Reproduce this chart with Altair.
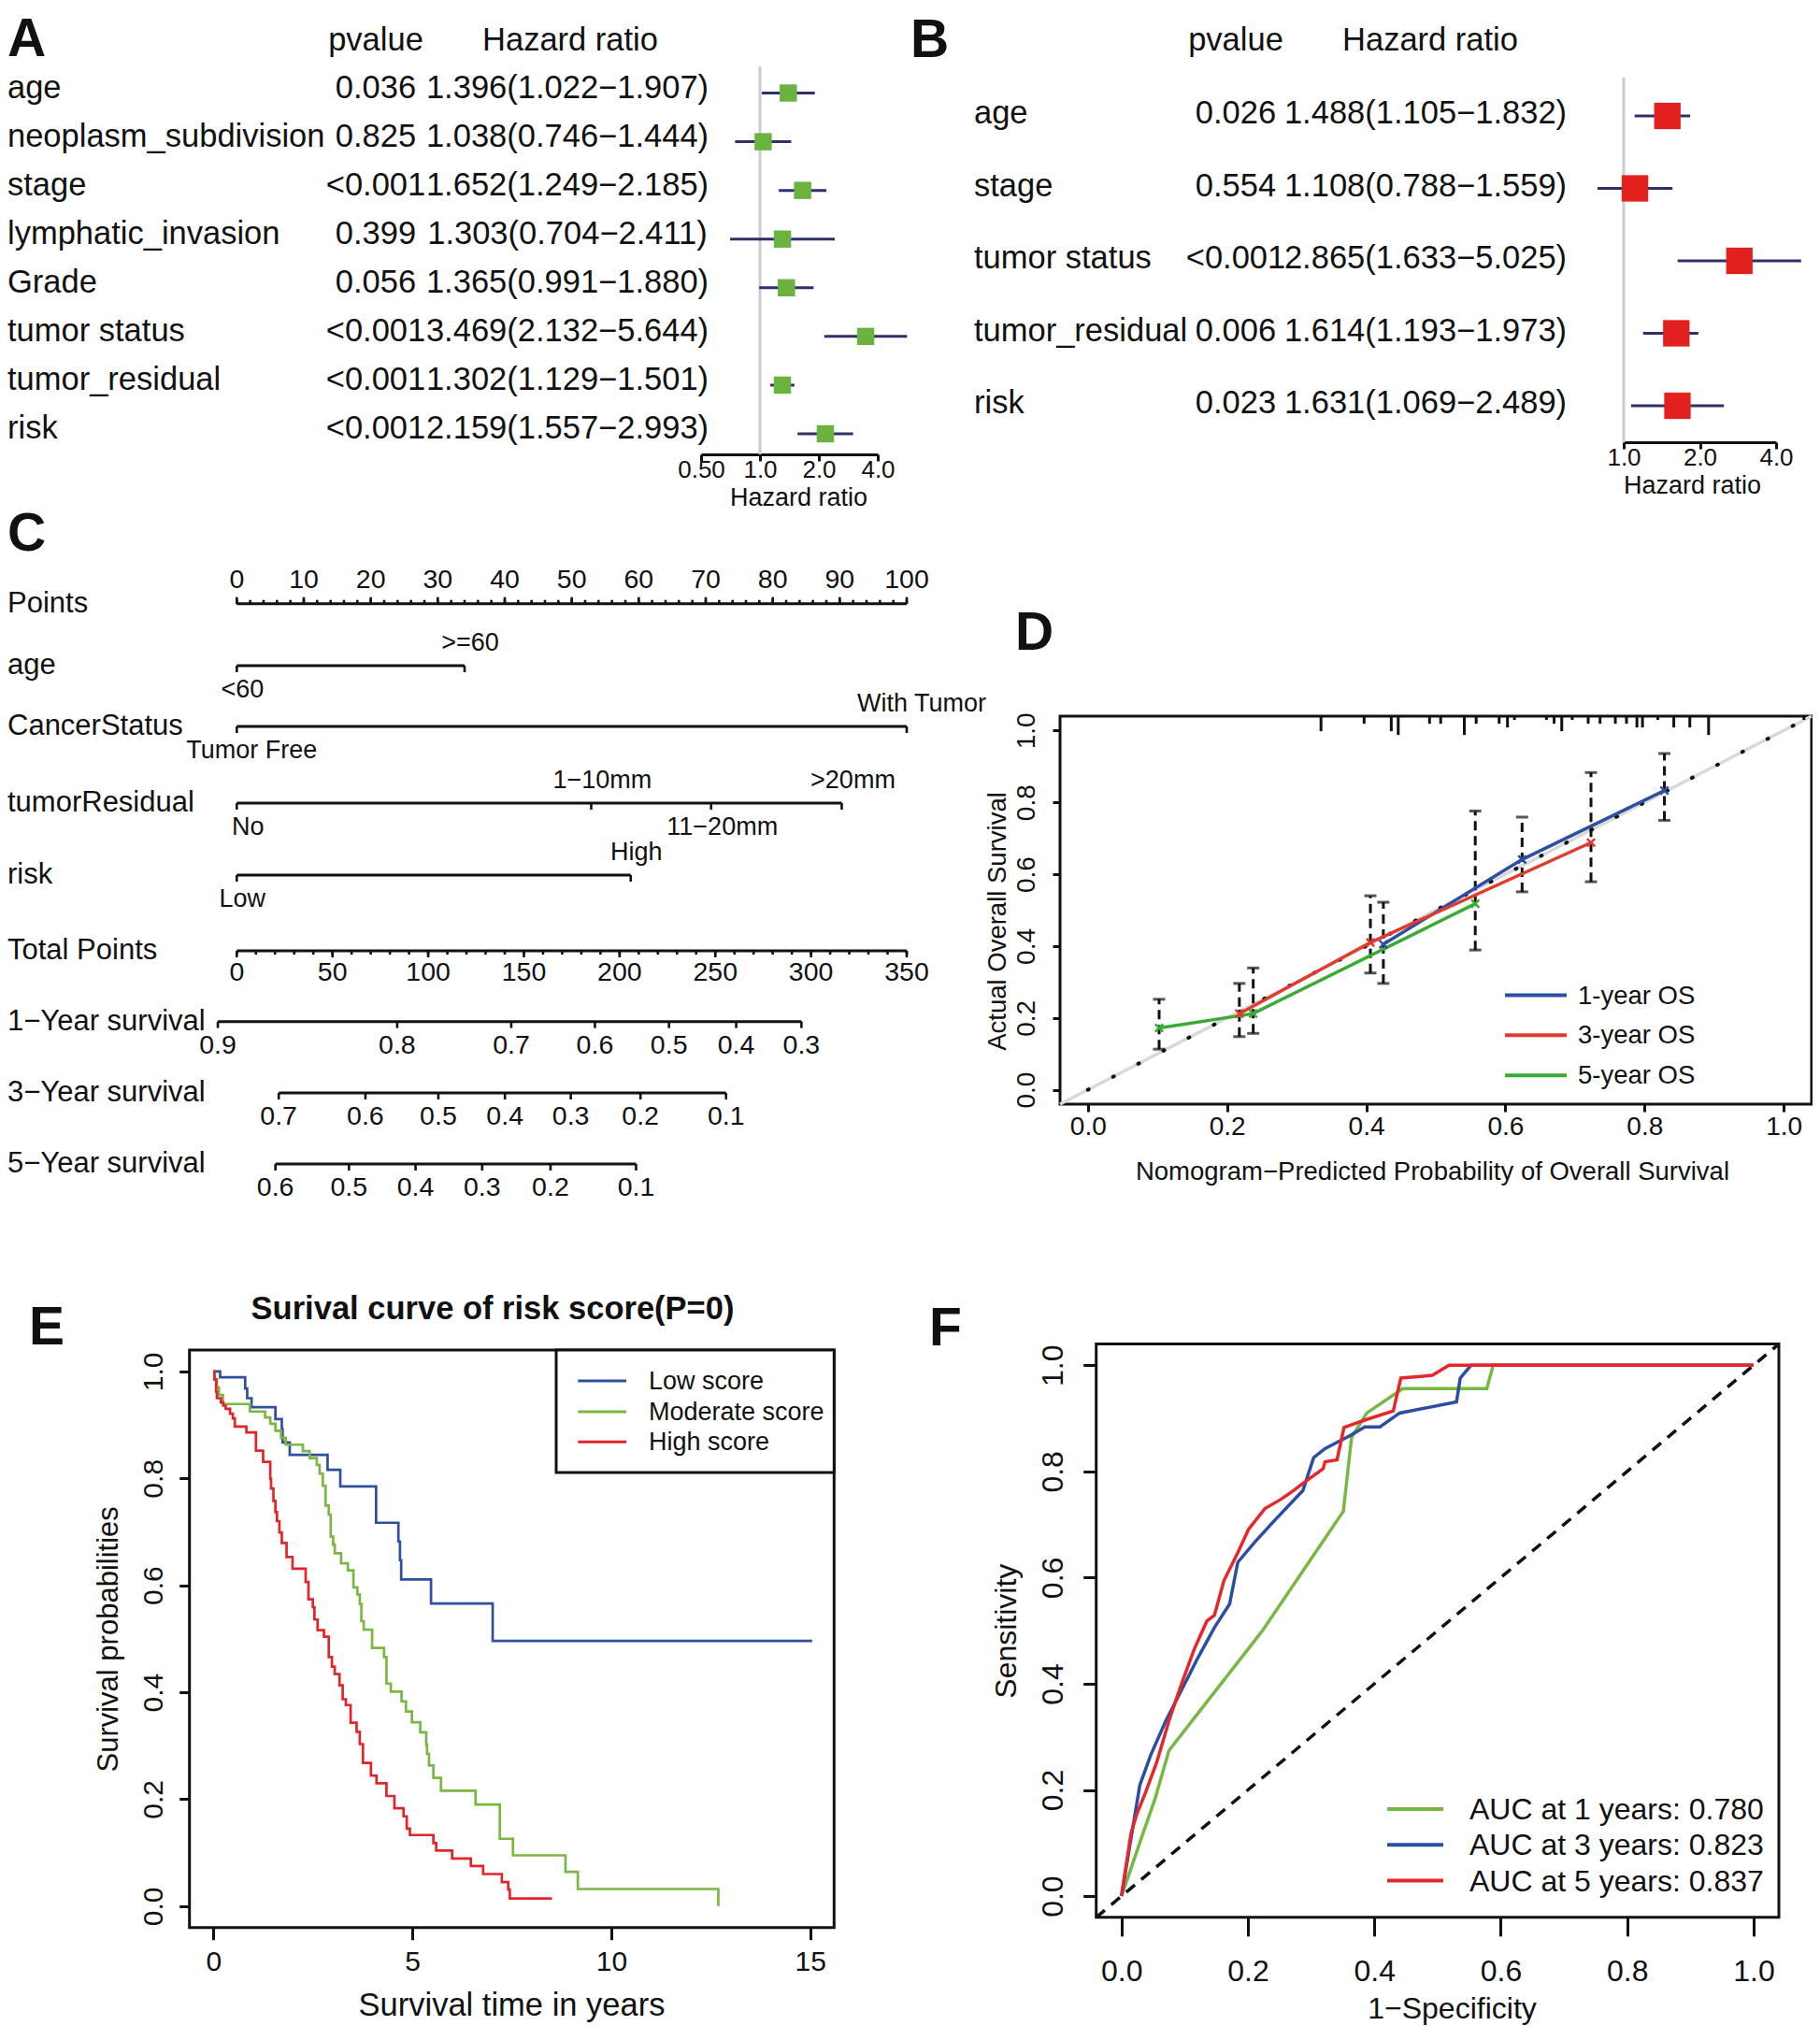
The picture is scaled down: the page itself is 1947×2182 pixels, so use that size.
import altair as alt
import pandas as pd

# ------------------------------------------------------------------ layout
W, H = 1931, 2158          # plot area; page margin 8px + inline gap below the svg
M = 8
FONT = "Liberation Sans"
BLACK = "#111111"


def px(v):
    """page pixel -> chart pixel"""
    return v - M


# ================================================================== DATA
# ---- A : univariate Cox regression
a_vars = ["age", "neoplasm_subdivision", "stage", "lymphatic_invasion", "Grade",
          "tumor status", "tumor_residual", "risk"]
a_pval = ["0.036", "0.825", "<0.001", "0.399", "0.056", "<0.001", "<0.001", "<0.001"]
a_hr = [1.396, 1.038, 1.652, 1.303, 1.365, 3.469, 1.302, 2.159]
a_lo = [1.022, 0.746, 1.249, 0.704, 0.991, 2.132, 1.129, 1.557]
a_hi = [1.907, 1.444, 2.185, 2.411, 1.880, 5.644, 1.501, 2.993]
a_ticks = [0.5, 1.0, 2.0, 4.0]
a_tick_labels = ["0.50", "1.0", "2.0", "4.0"]

# ---- B : multivariate Cox regression
b_vars = ["age", "stage", "tumor status", "tumor_residual", "risk"]
b_pval = ["0.026", "0.554", "<0.001", "0.006", "0.023"]
b_hr = [1.488, 1.108, 2.865, 1.614, 1.631]
b_lo = [1.105, 0.788, 1.633, 1.193, 1.069]
b_hi = [1.832, 1.559, 5.025, 1.973, 2.489]
b_ticks = [1.0, 2.0, 4.0]
b_tick_labels = ["1.0", "2.0", "4.0"]

# ---- C : nomogram
nomo_rows = ["Points", "age", "CancerStatus", "tumorResidual", "risk", "Total Points",
             "1\u2212Year survival", "3\u2212Year survival", "5\u2212Year survival"]
nomo_level = [0, 0.885, 1.753, 2.847, 3.875, 4.957, 5.966, 6.986, 8.0]
points_major = [0, 10, 20, 30, 40, 50, 60, 70, 80, 90, 100]
points_minor = list(range(0, 101, 2))
nomo_vars = ["age", "CancerStatus", "tumorResidual", "risk"]
nomo_labels = [["<60", ">=60"], ["Tumor Free", "With Tumor"],
               ["No", "1\u221210mm", "11\u221220mm", ">20mm"], ["Low", "High"]]
nomo_points = [[0, 34.0], [0, 100.0], [0, 52.9, 70.8, 90.3], [0, 58.8]]
nomo_side = [["below", "above"], ["below", "above"],
             ["below", "above", "below", "above"], ["below", "above"]]
nomo_label_dx = [6, 16, 12, 6]          # text nudge of the level labels (style)
total_major = [0, 50, 100, 150, 200, 250, 300, 350]
total_minor = list(range(0, 351, 10))
TOTAL_MAX = 350
surv_rows = ["1\u2212Year survival", "3\u2212Year survival", "5\u2212Year survival"]
surv_probs = [[0.9, 0.8, 0.7, 0.6, 0.5, 0.4, 0.3],
              [0.7, 0.6, 0.5, 0.4, 0.3, 0.2, 0.1],
              [0.6, 0.5, 0.4, 0.3, 0.2, 0.1]]
surv_total = [[-9.9, 83.8, 143.4, 187.1, 225.8, 260.9, 295.0],
              [21.9, 67.2, 105.3, 140.1, 174.5, 210.9, 255.6],
              [20.2, 58.6, 93.4, 128.2, 163.9, 208.6]]

# ---- D : calibration
d_names = ["1-year OS", "3-year OS", "5-year OS"]
d_colors = ["#2c4fa3", "#df3b2f", "#3aaa36"]
d_x = [[0.4246, 0.624, 0.8285], [0.2177, 0.406, 0.723], [0.1024, 0.2376, 0.5567]]
d_y = [[0.405, 0.641, 0.833], [0.212, 0.410, 0.688], [0.172, 0.212, 0.518]]
d_lo = [[0.296, 0.551, 0.750], [0.148, 0.325, 0.579], [0.113, 0.157, 0.389]]
d_hi = [[0.522, 0.759, 0.936], [0.296, 0.540, 0.883], [0.252, 0.339, 0.776]]
rug_x = [0.335, 0.397, 0.436, 0.446, 0.491, 0.507, 0.541, 0.558, 0.591, 0.603, 0.613,
         0.659, 0.670, 0.681, 0.696, 0.719, 0.736, 0.758, 0.774, 0.789, 0.797, 0.819,
         0.842, 0.865, 0.892, 1.029]
rug_n = [4, 2, 4, 5, 2, 2, 5, 2, 2, 3, 1, 1, 2, 4, 1, 2, 2, 2, 2, 3, 3, 1, 3, 3, 5, 1]
d_ticks = [0.0, 0.2, 0.4, 0.6, 0.8, 1.0]

# ---- E : Kaplan-Meier
e_names = ["Low score", "Moderate score", "High score"]
e_colors = ["#2f509e", "#7ab743", "#e1262b"]
e_t = [
    [0, 0.17, 0.80, 0.85, 0.96, 1.56, 1.72, 1.74, 1.92, 2.87, 3.19, 4.09, 4.65, 4.69, 4.72,
     5.47, 7.02, 15.05],
    [0, 0.02, 0.09, 0.14, 0.24, 0.92, 1.30, 1.43, 1.56, 1.70, 1.82, 2.25, 2.42, 2.60, 2.67,
     2.75, 2.82, 2.90, 2.95, 3.01, 3.05, 3.21, 3.38, 3.52, 3.62, 3.68, 3.72, 3.78, 3.99, 4.29,
     4.35, 4.46, 4.73, 4.84, 4.99, 5.20, 5.35, 5.37, 5.42, 5.53, 5.72, 6.59, 7.20, 7.53, 8.85,
     9.16, 12.69],
    [0, 0.03, 0.07, 0.09, 0.19, 0.25, 0.31, 0.42, 0.49, 0.54, 0.83, 1.07, 1.25, 1.43, 1.45,
     1.51, 1.56, 1.60, 1.66, 1.72, 1.84, 1.99, 2.32, 2.39, 2.50, 2.54, 2.62, 2.78, 2.90, 2.98,
     3.05, 3.17, 3.25, 3.33, 3.45, 3.60, 3.68, 3.76, 3.96, 4.10, 4.35, 4.55, 4.78, 4.86, 4.94,
     5.53, 5.60, 6.00, 6.47, 6.78, 7.25, 7.41, 7.45, 8.51],
]
e_s = [
    [1.0, 0.989, 0.968, 0.950, 0.933, 0.911, 0.892, 0.867, 0.844, 0.816, 0.785, 0.717, 0.682,
     0.647, 0.611, 0.566, 0.496, 0.496],
    [1.0, 0.985, 0.970, 0.956, 0.939, 0.925, 0.914, 0.902, 0.889, 0.876, 0.863, 0.851, 0.838,
     0.825, 0.809, 0.786, 0.749, 0.732, 0.691, 0.676, 0.660, 0.641, 0.628, 0.596, 0.583, 0.565,
     0.533, 0.517, 0.483, 0.466, 0.416, 0.401, 0.383, 0.364, 0.344, 0.325, 0.302, 0.285, 0.263,
     0.240, 0.216, 0.190, 0.126, 0.095, 0.064, 0.032, 0.0],
    [1.0, 0.985, 0.962, 0.950, 0.942, 0.936, 0.930, 0.921, 0.912, 0.897, 0.886, 0.852, 0.831,
     0.799, 0.781, 0.758, 0.737, 0.720, 0.699, 0.679, 0.653, 0.631, 0.606, 0.574, 0.559, 0.536,
     0.516, 0.504, 0.466, 0.448, 0.434, 0.413, 0.387, 0.376, 0.343, 0.326, 0.303, 0.268, 0.244,
     0.230, 0.206, 0.183, 0.168, 0.145, 0.133, 0.118, 0.104, 0.089, 0.075, 0.060, 0.045, 0.031,
     0.0145, 0.0145],
]
e_xticks = [0, 5, 10, 15]
e_yticks = [0.0, 0.2, 0.4, 0.6, 0.8, 1.0]

# ---- F : time-dependent ROC
f_names = ["AUC at 1 years: 0.780", "AUC at 3 years: 0.823", "AUC at 5 years: 0.837"]
f_colors = ["#76b843", "#2c4ea2", "#e6262b"]
f_fpr = [
    [0, 0.034, 0.053, 0.075, 0.223, 0.351, 0.364, 0.388, 0.445, 0.578, 0.588, 1.0],
    [0, 0.029, 0.046, 0.070, 0.100, 0.120, 0.147, 0.171, 0.184, 0.211, 0.240, 0.287, 0.304,
     0.322, 0.361, 0.385, 0.409, 0.440, 0.530, 0.536, 0.553, 1.0],
    [0, 0.015, 0.024, 0.038, 0.056, 0.075, 0.095, 0.115, 0.135, 0.147, 0.162, 0.184, 0.201,
     0.227, 0.253, 0.272, 0.292, 0.319, 0.322, 0.341, 0.352, 0.388, 0.430, 0.442, 0.492,
     0.518, 1.0],
]
f_tpr = [
    [0, 0.118, 0.183, 0.274, 0.500, 0.725, 0.864, 0.910, 0.956, 0.956, 1.0, 1.0],
    [0, 0.209, 0.265, 0.330, 0.400, 0.447, 0.506, 0.550, 0.629, 0.667, 0.705, 0.764, 0.826,
     0.843, 0.867, 0.884, 0.884, 0.910, 0.931, 0.976, 1.0, 1.0],
    [0, 0.118, 0.154, 0.195, 0.253, 0.330, 0.400, 0.465, 0.518, 0.529, 0.594, 0.647, 0.691,
     0.730, 0.748, 0.764, 0.782, 0.805, 0.818, 0.822, 0.883, 0.898, 0.914, 0.976, 0.981,
     1.0, 1.0],
]
f_ticks = [0.0, 0.2, 0.4, 0.6, 0.8, 1.0]

DOM = [-0.04, 1.04]   # R's 4% axis extension

# ================================================================== HELPERS
AXSTYLE = dict(grid=False, ticks=True, tickColor=BLACK, tickWidth=3, labelFont=FONT,
               labelColor=BLACK, labelFlush=False, labelOverlap=False, labelBaseline="middle",
               titleFont=FONT, titleColor=BLACK, titleFontWeight="normal",
               titleBaseline="middle")


def label_expr(vals, labs):
    e = "''"
    for v, l in zip(reversed(vals), reversed(labs)):
        e = f"abs(datum.value - {v}) < 1e-6 ? '{l}' : ({e})"
    return e


def txt(s, x, y, size, weight="normal", align="left", baseline="middle"):
    return alt.Chart(pd.DataFrame({"t": [s]})).mark_text(
        font=FONT, fontSize=size, fontWeight=weight, color=BLACK, align=align,
        baseline=baseline).encode(x=alt.value(x), y=alt.value(y), text="t:N")


def letter(ch, x, y):
    return txt(ch, x, y, 57, weight="bold", baseline="alphabetic")


def legend_rows(names, colors, x1, x2, tx, ys, size, sw):
    out = []
    for n, c, y in zip(names, colors, ys):
        out.append(alt.Chart(pd.DataFrame({"t": [n]})).mark_rule(color=c, strokeWidth=sw)
                   .encode(x=alt.value(x1), x2=alt.value(x2), y=alt.value(y)))
        out.append(txt(n, tx, y + 1, size))
    return out


def frame(xs, ys, xdom, ydom, ax, ay):
    df = pd.DataFrame({"x0": [xdom[0]], "x1": [xdom[1]], "y0": [ydom[0]], "y1": [ydom[1]]})
    return alt.Chart(df).mark_rect(fillOpacity=0, stroke=BLACK, strokeWidth=3).encode(
        x=alt.X("x0:Q", scale=xs, axis=ax), x2="x1:Q",
        y=alt.Y("y0:Q", scale=ys, axis=ay), y2="y1:Q")


# ================================================================== A / B forest plots
def forest(vars_, pvals, hr, lo, hi, ticks, tick_labels, xdom, xrng, rows, name_x, p_x, hr_x,
           hdr_hr_x, hdr_y, grey_y, axis_y, lab_rel, title_rel, title_x, sq_size, sq_color,
           text_dy, fs):
    n = len(vars_)
    df = pd.DataFrame({
        "row": list(range(n)), "var": vars_, "pval": pvals,
        "hrtxt": [f"{h:.3f}({l:.3f}\u2212{u:.3f})" for h, l, u in zip(hr, lo, hi)],
        "hr": hr, "lo": lo, "hi": hi})
    xs = alt.Scale(type="log", domain=xdom, range=[px(xrng[0]), px(xrng[1])], nice=False)
    ys = alt.Scale(domain=[0, n - 1], range=[px(rows[0]), px(rows[1])], nice=False, zero=False)
    ax = alt.Axis(values=ticks, labelExpr=label_expr(ticks, tick_labels), orient="bottom",
                  offset=px(axis_y) - H, domain=True, domainColor=BLACK, domainWidth=3,
                  tickSize=7, labelFontSize=26, labelPadding=lab_rel - 7,
                  title="Hazard ratio", titleFontSize=27, titleX=px(title_x), titleY=title_rel,
                  **AXSTYLE)
    Y = alt.Y("row:Q", scale=ys, axis=None)
    base = alt.Chart(df)
    tstyle = dict(font=FONT, fontSize=fs, color=BLACK, baseline="middle", dy=text_dy)
    grey = alt.Chart(pd.DataFrame({"v": [1.0]})).mark_rule(color="#cccccc", strokeWidth=3).encode(
        x=alt.X("v:Q", scale=xs, axis=ax), y=alt.value(px(grey_y[0])), y2=alt.value(px(grey_y[1])))
    ci = base.mark_rule(color="#2d3069", strokeWidth=3).encode(
        x=alt.X("lo:Q", scale=xs, axis=ax), x2="hi:Q", y=Y)
    sq = base.mark_square(size=sq_size, color=sq_color, opacity=1).encode(
        x=alt.X("hr:Q", scale=xs, axis=ax), y=Y)
    names = base.mark_text(align="left", **tstyle).encode(x=alt.value(px(name_x)), y=Y, text="var:N")
    pv = base.mark_text(align="center", **tstyle).encode(x=alt.value(px(p_x)), y=Y, text="pval:N")
    hrt = base.mark_text(align="center", **tstyle).encode(x=alt.value(px(hr_x)), y=Y, text="hrtxt:N")
    h1 = txt("pvalue", px(p_x), px(hdr_y) + 2, fs, align="center")
    h2 = txt("Hazard ratio", px(hdr_hr_x), px(hdr_y) + 2, fs, align="center")
    return alt.layer(grey, ci, sq, names, pv, hrt, h1, h2)


panel_a = forest(a_vars, a_pval, a_hr, a_lo, a_hi, a_ticks, a_tick_labels,
                 xdom=[0.5, 4.0], xrng=[750, 939], rows=[99.5, 464], name_x=8, p_x=402,
                 hr_x=607, hdr_hr_x=610, hdr_y=41.5, grey_y=[71, 486], axis_y=486, lab_rel=16,
                 title_rel=46, title_x=854, sq_size=340, sq_color="#6ab33f", text_dy=-5, fs=34.5)
panel_b = forest(b_vars, b_pval, b_hr, b_lo, b_hi, b_ticks, b_tick_labels,
                 xdom=[1.0, 4.0], xrng=[1737, 1900], rows=[124, 434], name_x=1042, p_x=1322,
                 hr_x=1525, hdr_hr_x=1530, hdr_y=41.5, grey_y=[83, 473], axis_y=473, lab_rel=16,
                 title_rel=46, title_x=1810, sq_size=800, sq_color="#e2211f", text_dy=-2, fs=34.5)

# ================================================================== C nomogram
c_xs = alt.Scale(domain=[0, 100], range=[px(253.3), px(970.0)], nice=False, zero=False)
c_ys = alt.Scale(domain=[0, 8], range=[px(645.7), px(1245.0)], nice=False, zero=False)


def cX(f):
    return alt.X(f, type="quantitative", scale=c_xs, axis=None)


def cY(f):
    return alt.Y(f, type="quantitative", scale=c_ys, axis=None)


lvl = dict(zip(nomo_rows, nomo_level))
to_pts = 100.0 / TOTAL_MAX
seg = [("Points", 0, 100)]
for v, pts in zip(nomo_vars, nomo_points):
    seg.append((v, min(pts), max(pts)))
seg.append(("Total Points", 0, 100))
for r, tps in zip(surv_rows, surv_total):
    seg.append((r, min(tps) * to_pts, max(tps) * to_pts))
c_seg = pd.DataFrame(seg, columns=["row", "lo", "hi"])
c_seg["lvl"] = c_seg["row"].map(lvl)

down_major, down_minor, up_major, up_minor = [], [], [], []
for v, pts in zip(nomo_vars, nomo_points):
    down_major += [(lvl[v], p) for p in pts]
down_major += [(lvl["Total Points"], t * to_pts) for t in total_major]
for r, tps in zip(surv_rows, surv_total):
    down_major += [(lvl[r], t * to_pts) for t in tps]
down_minor += [(lvl["Total Points"], t * to_pts) for t in total_minor]
up_major += [(lvl["Points"], p) for p in points_major]
up_minor += [(lvl["Points"], p) for p in points_minor]


def tick_layer(rows, off):
    df = pd.DataFrame(rows, columns=["lvl", "pos"])
    return alt.Chart(df).mark_rule(color=BLACK, strokeWidth=2.6, y2Offset=off).encode(
        x=cX("pos"), y=cY("lvl"), y2="lvl")


lab_pts = pd.DataFrame({"lvl": lvl["Points"], "pos": points_major,
                        "lab": [str(p) for p in points_major]})
lab_tot = pd.DataFrame({"lvl": lvl["Total Points"], "pos": [t * to_pts for t in total_major],
                        "lab": [str(t) for t in total_major]})
srows = []
for r, probs, tps in zip(surv_rows, surv_probs, surv_total):
    srows += [(lvl[r], t * to_pts, f"{p:.1f}") for p, t in zip(probs, tps)]
lab_surv = pd.DataFrame(srows, columns=["lvl", "pos", "lab"])


def text_layer(df, dy, dx=0, size=28.5):
    return alt.Chart(df).mark_text(font=FONT, fontSize=size, color=BLACK, align="center",
                                   baseline="middle", dy=dy, dx=dx).encode(
        x=cX("pos"), y=cY("lvl"), text="lab:N")


var_text = []
for v, labs, pts, sides, ddx in zip(nomo_vars, nomo_labels, nomo_points, nomo_side, nomo_label_dx):
    df = pd.DataFrame({"lvl": lvl[v], "pos": pts, "lab": labs, "side": sides})
    var_text.append(text_layer(df[df.side == "above"], -24, dx=ddx, size=27))
    var_text.append(text_layer(df[df.side == "below"], 26, dx=ddx, size=27))

row_lab = alt.Chart(pd.DataFrame({"row": nomo_rows, "lvl": nomo_level})).mark_text(
    font=FONT, fontSize=31, color=BLACK, align="left", baseline="middle").encode(
    x=alt.value(0), y=cY("lvl"), text="row:N")

panel_c = alt.layer(
    alt.Chart(c_seg).mark_rule(color=BLACK, strokeWidth=3).encode(x=cX("lo"), x2="hi", y=cY("lvl")),
    tick_layer(down_major, 7), tick_layer(down_minor, 4),
    tick_layer(up_major, -7), tick_layer(up_minor, -4),
    text_layer(lab_pts, -26), text_layer(lab_tot, 23), text_layer(lab_surv, 25),
    *var_text,
    row_lab,
)

# ================================================================== D calibration
d_xs = alt.Scale(domain=DOM, range=[px(1134), px(1938)], nice=False, zero=False)
d_ys = alt.Scale(domain=DOM, range=[px(1181), px(766)], nice=False, zero=False)
d_ax = alt.Axis(values=d_ticks, format=".1f", orient="bottom", offset=px(1181) - H, domain=False,
                tickSize=8, labelFontSize=28, labelPadding=16,
                title="Nomogram\u2212Predicted Probability of Overall Survival", titleFontSize=27.5,
                titleX=px(1532), titleY=72, **AXSTYLE)
d_ay = alt.Axis(values=d_ticks, format=".1f", orient="left", offset=-px(1134), domain=False,
                tickSize=8, labelFontSize=28, labelPadding=28, labelAngle=270, labelAlign="center",
                title="Actual Overall Survival", titleFontSize=27.5, titleAngle=270,
                titleX=1067 - 1134, titleY=px(985), **AXSTYLE)


def dX(f):
    return alt.X(f, type="quantitative", scale=d_xs, axis=d_ax)


def dY(f):
    return alt.Y(f, type="quantitative", scale=d_ys, axis=d_ay)


d_rows, d_eb, d_caps = [], [], []
for name, xs_, ys_, los, his in zip(d_names, d_x, d_y, d_lo, d_hi):
    for i, (xv, yv, l, h) in enumerate(zip(xs_, ys_, los, his)):
        d_rows.append((name, xv, yv, i))
        d_eb.append((xv, l, h))
        d_caps += [(xv, l), (xv, h)]
d_df = pd.DataFrame(d_rows, columns=["series", "x", "y", "ord"])
d_eb = pd.DataFrame(d_eb, columns=["x", "lo", "hi"])
d_caps = pd.DataFrame(d_caps, columns=["x", "y"])
d_col = alt.Color("series:N", scale=alt.Scale(domain=d_names, range=d_colors), legend=None)
RUG_UNIT = 0.0105
rug_df = pd.DataFrame({"x": rug_x, "n": rug_n})

panel_d = alt.layer(
    frame(d_xs, d_ys, DOM, DOM, d_ax, d_ay),
    alt.Chart(pd.DataFrame({"v": DOM})).mark_line(color="#d9d9d9", strokeWidth=3.5).encode(
        x=dX("v"), y=dY("v")),
    alt.Chart(pd.DataFrame({"v": [0.0, DOM[1]]})).mark_line(
        color=BLACK, strokeWidth=4, strokeDash=[1, 29.3], strokeCap="round").encode(
        x=dX("v"), y=dY("v")),
    alt.Chart(rug_df).transform_calculate(
        top=f"{DOM[1]}", bot=f"{DOM[1]} - datum.n * {RUG_UNIT}").mark_rule(
        color=BLACK, strokeWidth=3).encode(x=dX("x"), y=dY("top"), y2="bot"),
    alt.Chart(d_eb).mark_rule(color=BLACK, strokeWidth=3, strokeDash=[10, 6]).encode(
        x=dX("x"), y=dY("lo"), y2="hi"),
    alt.Chart(d_caps).mark_tick(orient="horizontal", size=13, thickness=3, color=BLACK).encode(
        x=dX("x"), y=dY("y")),
    alt.Chart(d_df).mark_line(strokeWidth=3.5).encode(
        x=dX("x"), y=dY("y"), color=d_col, order="ord:Q"),
    alt.Chart(d_df).mark_point(shape="M-1,-1L1,1M-1,1L1,-1", filled=False, size=70,
                               strokeWidth=2.5, opacity=1).encode(
        x=dX("x"), y=dY("y"), color=d_col),
    *legend_rows(d_names, d_colors, px(1610), px(1676), px(1688), [px(1064.5), px(1107.3), px(1150.2)],
                 27.5, 4),
)

# ================================================================== E Kaplan-Meier
E_XDOM = [-0.6, 15.6]
e_xs = alt.Scale(domain=E_XDOM, range=[px(202.7), px(892.3)], nice=False, zero=False)
e_ys = alt.Scale(domain=DOM, range=[px(2061.7), px(1444)], nice=False, zero=False)
e_ax = alt.Axis(values=e_xticks, orient="bottom", offset=px(2061.7) - H, domain=False, tickSize=13,
                labelFontSize=30, labelPadding=24, title="Survival time in years", titleFontSize=34.5,
                titleX=px(547), titleY=84, **AXSTYLE)
e_ay = alt.Axis(values=e_yticks, format=".1f", orient="left", offset=-px(202.7), domain=False,
                tickSize=11, labelFontSize=30, labelPadding=27, labelAngle=270, labelAlign="center",
                title="Survival probabilities", titleFontSize=31, titleAngle=270,
                titleX=116 - 202.7, titleY=(px(2061.7) + px(1444)) / 2, **AXSTYLE)
e_rows = []
for name, ts, ss in zip(e_names, e_t, e_s):
    e_rows += [(name, t, s, i) for i, (t, s) in enumerate(zip(ts, ss))]
e_df = pd.DataFrame(e_rows, columns=["group", "t", "s", "ord"])

panel_e = alt.layer(
    frame(e_xs, e_ys, E_XDOM, DOM, e_ax, e_ay),
    alt.Chart(e_df).mark_line(interpolate="step-after", strokeWidth=2.7).encode(
        x=alt.X("t:Q", scale=e_xs, axis=e_ax), y=alt.Y("s:Q", scale=e_ys, axis=e_ay),
        color=alt.Color("group:N", scale=alt.Scale(domain=e_names, range=e_colors), legend=None),
        order="ord:Q"),
    alt.Chart(pd.DataFrame({"t": ["box"]})).mark_rect(fill="white", stroke=BLACK, strokeWidth=3)
    .encode(x=alt.value(px(595)), x2=alt.value(px(892.3)), y=alt.value(px(1444)),
            y2=alt.value(px(1575))),
    *legend_rows(e_names, e_colors, px(618.3), px(670), px(694), [px(1477), px(1510), px(1542.3)],
                 27, 3),
    txt("Surival curve of risk score(P=0)", px(527), px(1399) + 2, 34.5, weight="bold",
        align="center"),
)

# ================================================================== F ROC
f_xs = alt.Scale(domain=DOM, range=[px(1172.7), px(1903)], nice=False, zero=False)
f_ys = alt.Scale(domain=DOM, range=[px(2050.8), px(1437.6)], nice=False, zero=False)
f_ax = alt.Axis(values=f_ticks, format=".1f", orient="bottom", offset=px(2050.8) - H, domain=False,
                tickSize=20, labelFontSize=32, labelPadding=38, title="1\u2212Specificity",
                titleFontSize=32, titleX=px(1553), titleY=98, **AXSTYLE)
f_ay = alt.Axis(values=f_ticks, format=".1f", orient="left", offset=-px(1172.7), domain=False,
                tickSize=14, labelFontSize=32, labelPadding=32, labelAngle=270, labelAlign="center",
                title="Sensitivity", titleFontSize=32, titleAngle=270,
                titleX=1076 - 1172.7, titleY=(px(2050.8) + px(1437.6)) / 2, **AXSTYLE)
f_rows = []
for name, xs_, ys_ in zip(f_names, f_fpr, f_tpr):
    f_rows += [(name, a, b, i) for i, (a, b) in enumerate(zip(xs_, ys_))]
f_df = pd.DataFrame(f_rows, columns=["curve", "fpr", "tpr", "ord"])

panel_f = alt.layer(
    frame(f_xs, f_ys, DOM, DOM, f_ax, f_ay),
    alt.Chart(pd.DataFrame({"v": DOM})).mark_line(color=BLACK, strokeWidth=3.5,
                                                  strokeDash=[12, 9]).encode(
        x=alt.X("v:Q", scale=f_xs, axis=f_ax), y=alt.Y("v:Q", scale=f_ys, axis=f_ay)),
    alt.Chart(f_df).mark_line(strokeWidth=3.5).encode(
        x=alt.X("fpr:Q", scale=f_xs, axis=f_ax), y=alt.Y("tpr:Q", scale=f_ys, axis=f_ay),
        color=alt.Color("curve:N", scale=alt.Scale(domain=f_names, range=f_colors), legend=None),
        order="ord:Q"),
    *legend_rows(f_names, f_colors, px(1484), px(1544), px(1572), [px(1935), px(1973.2), px(2011.5)],
                 32, 4),
)

# ================================================================== compose
chart = alt.layer(
    panel_a, panel_b, panel_c, panel_d, panel_e, panel_f,
    letter("A", 0, 52), letter("B", px(974), 53), letter("C", 0, px(589)),
    letter("D", px(1086), px(695)), letter("E", px(31), px(1438)), letter("F", px(994), px(1439)),
).resolve_scale(x="independent", y="independent", color="independent").properties(
    width=W, height=H, padding=0, autosize=alt.AutoSizeParams(type="none")
).configure_view(stroke=None)

chart.save("out.html", embed_options={"renderer": "svg", "actions": False})
